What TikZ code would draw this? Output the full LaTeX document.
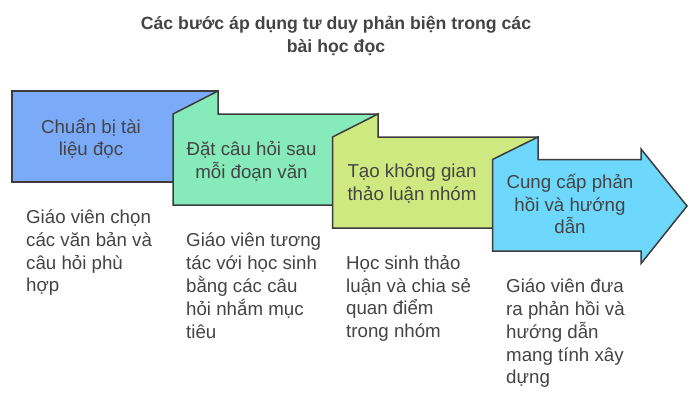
\documentclass[tikz,border=0pt]{standalone}
\usepackage{fontspec}
\setmainfont{Liberation Sans}
\definecolor{cA}{RGB}{123,170,249}
\definecolor{cB}{RGB}{134,234,186}
\definecolor{cC}{RGB}{205,233,128}
\definecolor{cD}{RGB}{110,216,252}
\definecolor{txt}{RGB}{68,68,68}
\definecolor{edge}{RGB}{60,60,60}
\tikzset{
  stepshape/.style={draw=edge, line width=1.5bp, line join=miter},
  boxtext/.style={inner sep=0pt, anchor=base, text=txt, font=\fontsize{18.7bp}{22.5bp}\selectfont},
  desctext/.style={inner sep=0pt, anchor=base west, text=txt, font=\fontsize{18.7bp}{22.8bp}\selectfont},
  titletext/.style={inner sep=0pt, anchor=base, text=txt, font=\fontsize{17.7bp}{22.5bp}\selectfont\bfseries}
}
\begin{document}
\begin{tikzpicture}[x=1bp,y=-1bp]
\useasboundingbox[fill=white] (0,0) rectangle (700,400);
% title
\node[titletext] (title) at (336,29.5) {\begin{tabular}[t]{@{}c@{}}Các bước áp dụng tư duy phản biện trong các\\bài học đọc\end{tabular}};
% boxes
\path[stepshape, fill=cA] (12,91) rectangle (218,182);
\path[stepshape, fill=cB] (173,114) -- (218,91) -- (218,114) -- (378,114) -- (378,205) -- (173,205) -- cycle;
\path[stepshape, fill=cC] (332.5,137) -- (378,114) -- (378,137) -- (538,137) -- (538,228) -- (332.5,228) -- cycle;
\path[stepshape, fill=cD] (492.5,159.5) -- (538,137) -- (538,159.5) -- (641,159.5) -- (641,149) -- (687,206) -- (641,263.5) -- (641,251) -- (492.5,251) -- cycle;
% box texts
\node[boxtext] (t1) at (91,133) {\begin{tabular}[t]{@{}c@{}}Chuẩn bị tài\\liệu đọc\end{tabular}};
\node[boxtext] (t2) at (251.5,155.5) {\begin{tabular}[t]{@{}c@{}}Đặt câu hỏi sau\\mỗi đoạn văn\end{tabular}};
\node[boxtext] (t3) at (412,177.5) {\begin{tabular}[t]{@{}c@{}}Tạo không gian\\thảo luận nhóm\end{tabular}};
\node[boxtext] (t4) at (570,188.5) {\begin{tabular}[t]{@{}c@{}}Cung cấp phản\\hồi và hướng\\dẫn\end{tabular}};
% descriptions
\node[desctext] (d1) at (26,223.5) {\begin{tabular}[t]{@{}l@{}}Giáo viên chọn\\các văn bản và\\câu hỏi phù\\hợp\end{tabular}};
\node[desctext] (d2) at (186,246.5) {\begin{tabular}[t]{@{}l@{}}Giáo viên tương\\tác với học sinh\\bằng các câu\\hỏi nhắm mục\\tiêu\end{tabular}};
\node[desctext] (d3) at (346,269.3) {\begin{tabular}[t]{@{}l@{}}Học sinh thảo\\luận và chia sẻ\\quan điểm\\trong nhóm\end{tabular}};
\node[desctext] (d4) at (506,292.5) {\begin{tabular}[t]{@{}l@{}}Giáo viên đưa\\ra phản hồi và\\hướng dẫn\\mang tính xây\\dựng\end{tabular}};
\end{tikzpicture}
\end{document}
